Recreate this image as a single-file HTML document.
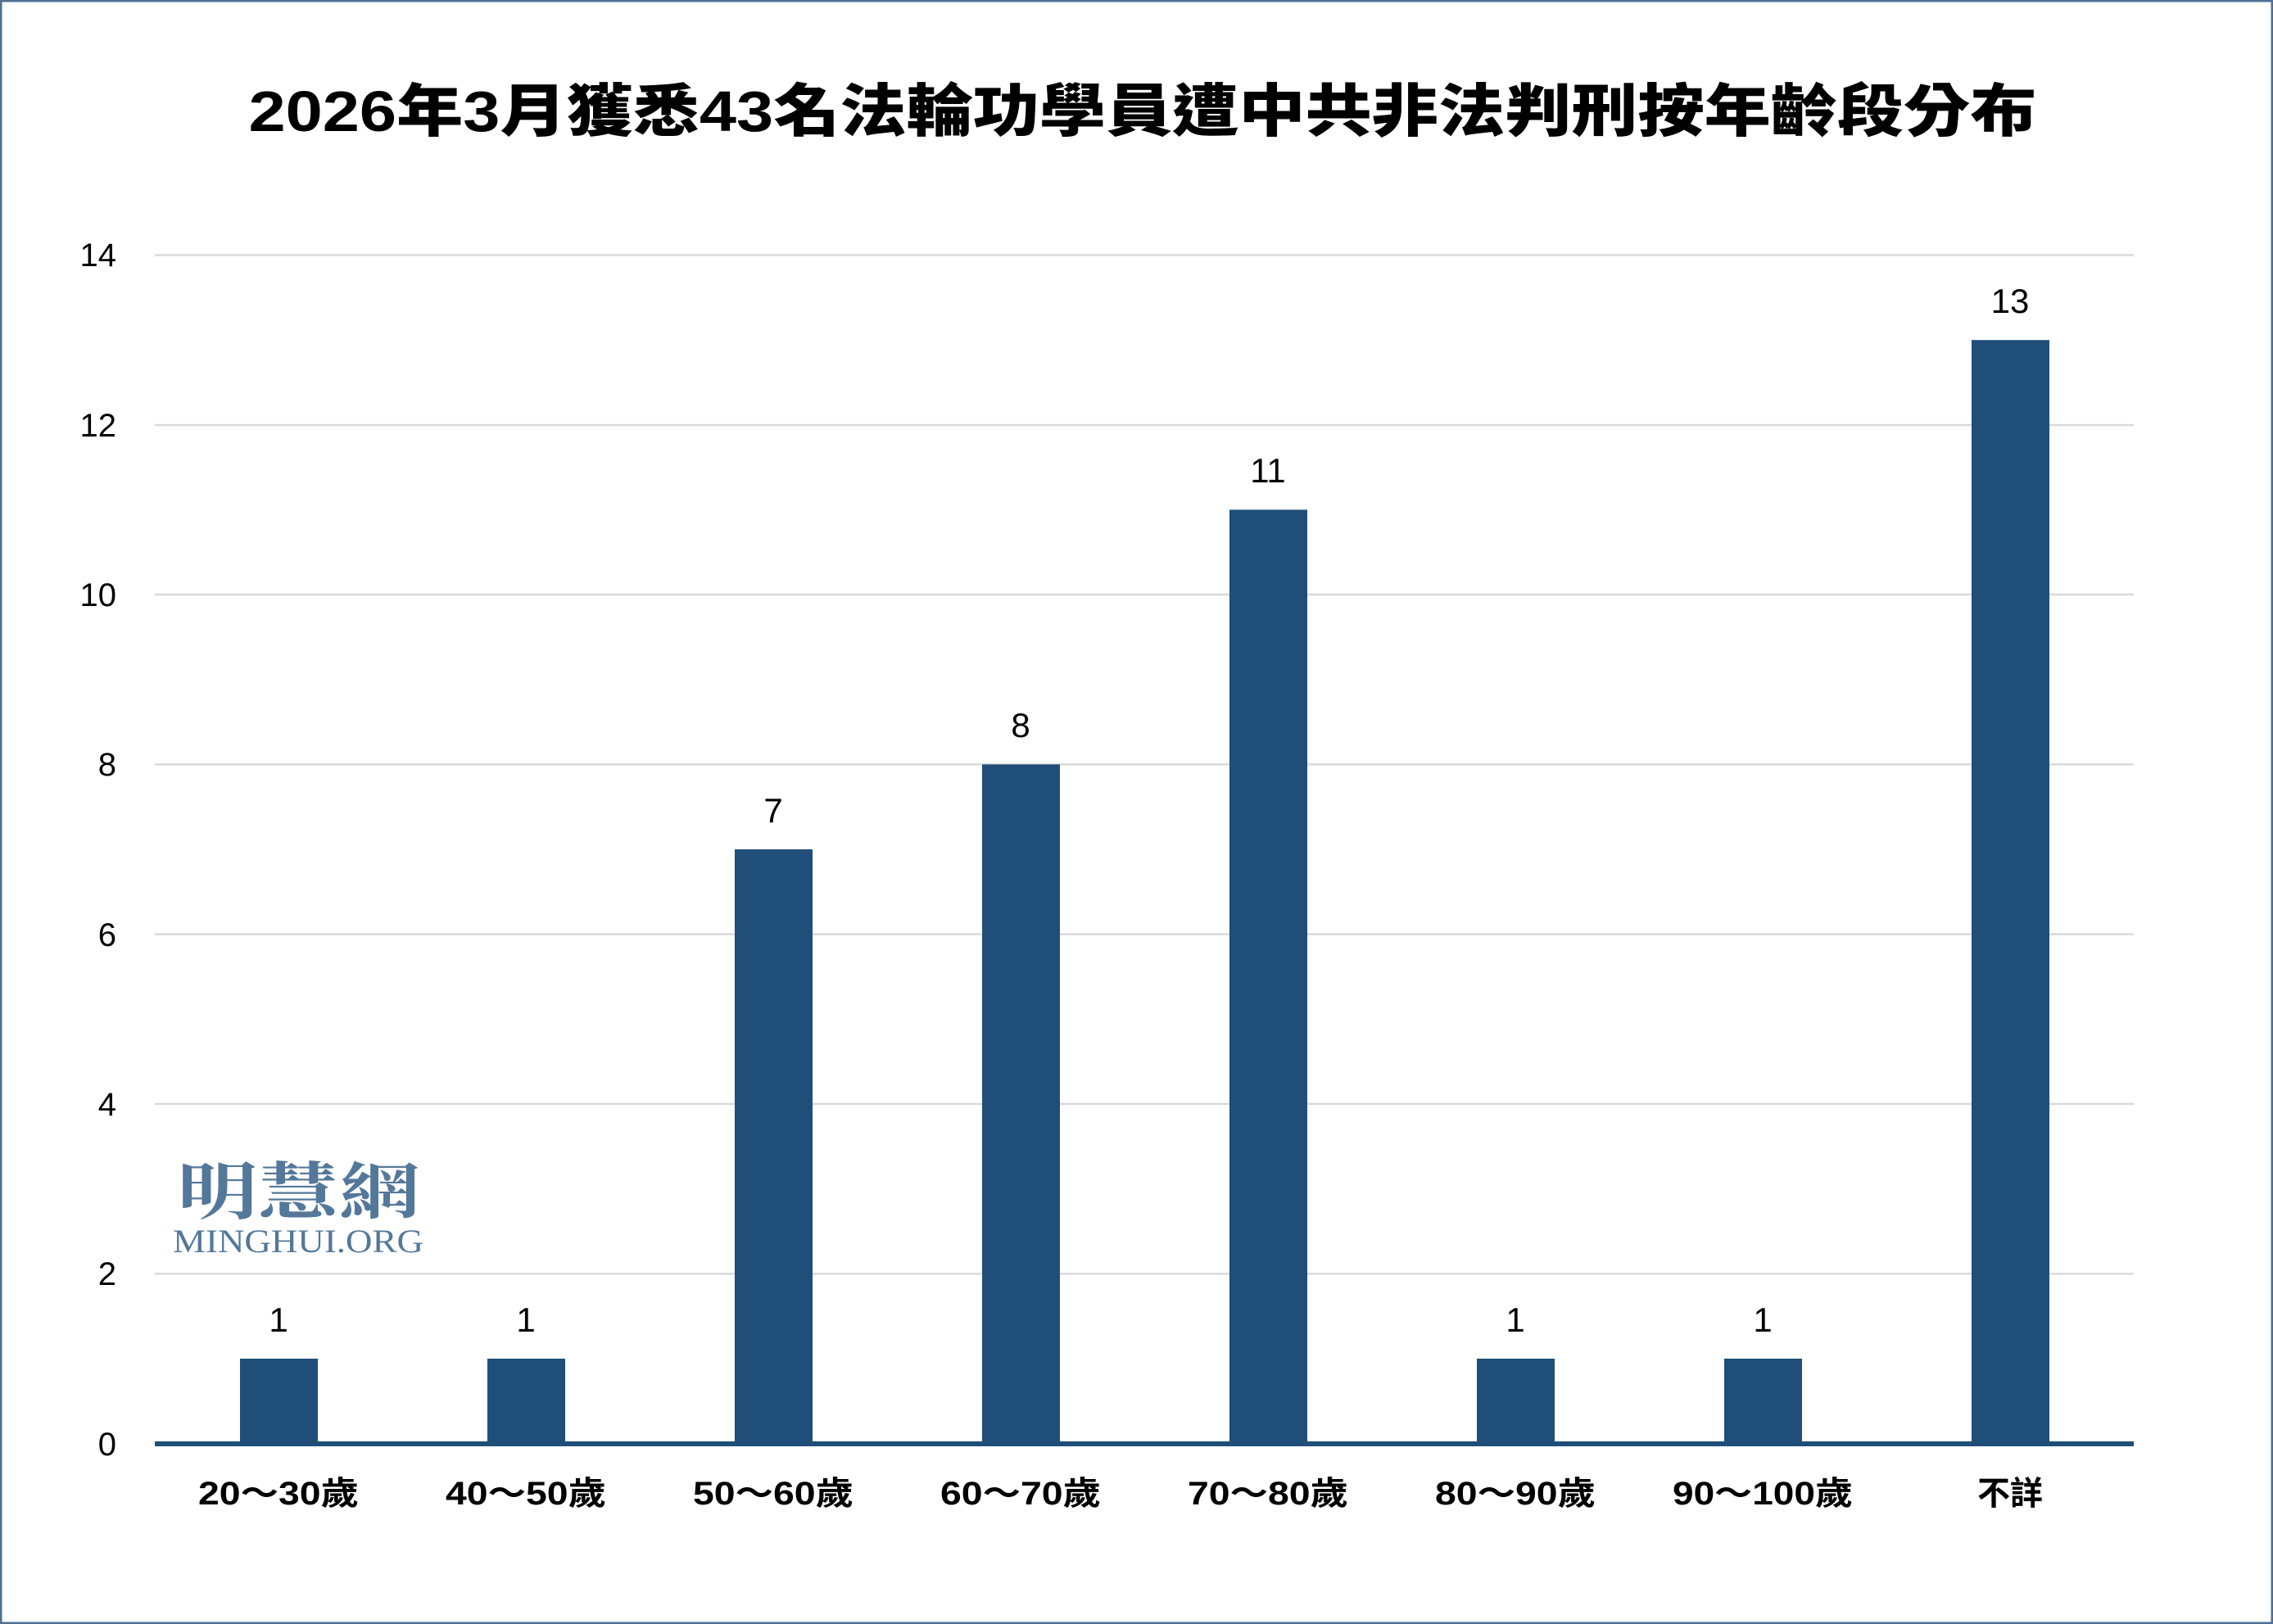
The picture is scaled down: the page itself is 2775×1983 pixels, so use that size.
<!DOCTYPE html>
<html><head><meta charset="utf-8"><style>
html,body{margin:0;padding:0;background:#fff}
svg{display:block}
</style></head><body>
<svg width="2775" height="1983" viewBox="0 0 2775 1983" xmlns="http://www.w3.org/2000/svg">
<rect x="1" y="1" width="2773" height="1981" fill="#fff" stroke="#4f6f95" stroke-width="3"/>
<text x="1395" y="160" text-anchor="middle" textLength="2183" lengthAdjust="spacingAndGlyphs" font-family="'Liberation Sans','Noto Sans CJK TC',sans-serif" font-weight="900" font-size="70" fill="#000">2026年3月獲悉43名法輪功學員遭中共非法判刑按年齡段分布</text>
<g stroke="#d9d9d9" stroke-width="2.5">
<line x1="189" x2="2605" y1="311.5" y2="311.5"/>
<line x1="189" x2="2605" y1="519" y2="519"/>
<line x1="189" x2="2605" y1="726" y2="726"/>
<line x1="189" x2="2605" y1="933.4" y2="933.4"/>
<line x1="189" x2="2605" y1="1140.7" y2="1140.7"/>
<line x1="189" x2="2605" y1="1348" y2="1348"/>
<line x1="189" x2="2605" y1="1555.4" y2="1555.4"/>
</g>
<g font-family="'Liberation Sans',sans-serif" font-size="40" fill="#000" text-anchor="end">
<text x="142" y="325">14</text>
<text x="142" y="533">12</text>
<text x="142" y="740">10</text>
<text x="142" y="947">8</text>
<text x="142" y="1155">6</text>
<text x="142" y="1362">4</text>
<text x="142" y="1569">2</text>
<text x="142" y="1777">0</text>
</g>
<g fill="#1f4e79">
<rect x="293" y="1659" width="95" height="104"/>
<rect x="595" y="1659" width="95" height="104"/>
<rect x="897" y="1037.1" width="95" height="726"/>
<rect x="1199" y="933.4" width="95" height="830"/>
<rect x="1501" y="622.4" width="95" height="1141"/>
<rect x="1803" y="1659" width="95" height="104"/>
<rect x="2105" y="1659" width="95" height="104"/>
<rect x="2407" y="415.2" width="95" height="1348"/>
</g>
<rect x="189" y="1760" width="2416" height="6" fill="#1f4e79"/>
<g font-family="'Liberation Sans',sans-serif" font-size="42" fill="#000" text-anchor="middle">
<text x="340" y="1626">1</text>
<text x="642" y="1626">1</text>
<text x="944" y="1004">7</text>
<text x="1246" y="900">8</text>
<text x="1548" y="589">11</text>
<text x="1850" y="1626">1</text>
<text x="2152" y="1626">1</text>
<text x="2454" y="382">13</text>
</g>
<g font-family="'Liberation Sans','Noto Sans CJK TC',sans-serif" font-weight="bold" font-size="40" fill="#000" text-anchor="middle">
<text x="340" y="1837" textLength="196" lengthAdjust="spacingAndGlyphs">20～30歲</text>
<text x="642" y="1837" textLength="196" lengthAdjust="spacingAndGlyphs">40～50歲</text>
<text x="944" y="1837" textLength="196" lengthAdjust="spacingAndGlyphs">50～60歲</text>
<text x="1246" y="1837" textLength="196" lengthAdjust="spacingAndGlyphs">60～70歲</text>
<text x="1548" y="1837" textLength="196" lengthAdjust="spacingAndGlyphs">70～80歲</text>
<text x="1850" y="1837" textLength="196" lengthAdjust="spacingAndGlyphs">80～90歲</text>
<text x="2152" y="1837" textLength="220" lengthAdjust="spacingAndGlyphs">90～100歲</text>
<text x="2454" y="1837">不詳</text>
</g>
<text x="216" y="1482" textLength="297" lengthAdjust="spacingAndGlyphs" font-family="'Liberation Serif','Noto Serif CJK SC',serif" font-weight="bold" font-size="76" fill="#54789a">明慧網</text>
<text x="211" y="1529" textLength="306" lengthAdjust="spacingAndGlyphs" font-family="'Liberation Serif',serif" font-size="40" fill="#54789a">MINGHUI.ORG</text>
</svg>
</body></html>
